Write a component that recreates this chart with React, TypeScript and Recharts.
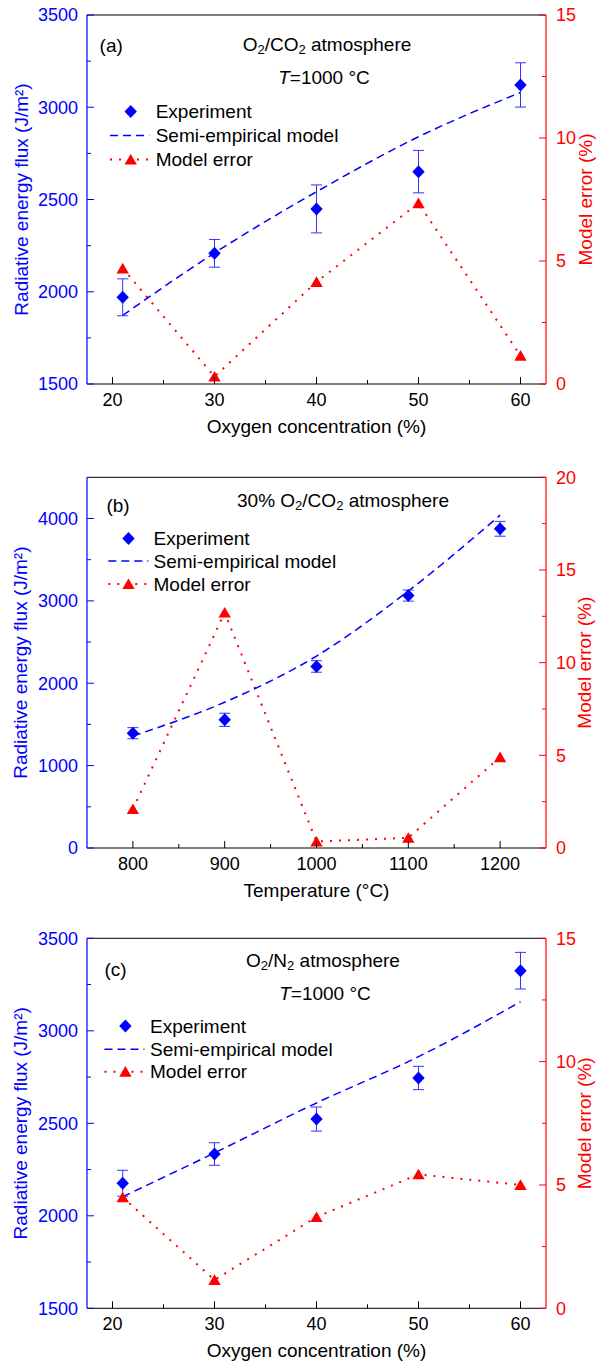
import React from 'react';
import {
  ComposedChart,
  Line,
  Scatter,
  ErrorBar,
  XAxis,
  YAxis,
  ReferenceLine,
  Legend,
  Customized,
} from 'recharts';

const BLUE = '#0000FF';
const RED = '#FF0000';
const FONT = "'Liberation Sans', Arial, Helvetica, sans-serif";

// ---------- Panel (a): O2/CO2, T = 1000 C ----------
const oxygenA = [21, 30, 40, 50, 60];
const expA = [1970, 2208, 2449, 2651, 3121];
const expErrA = [100, 75, 130, 115, 120];
const modelA = [1872, 2210, 2542, 2840, 3080];
const errPctA = [4.7, 0.3, 4.15, 7.35, 1.15];

// ---------- Panel (b): 30% O2/CO2, temperature ----------
const tempB = [800, 900, 1000, 1100, 1200];
const expB = [1394, 1556, 2204, 3064, 3875];
const expErrB = [67, 80, 70, 67, 90];
const modelB = [1360, 1770, 2330, 3120, 4040];
const errPctB = [2.1, 12.7, 0.35, 0.55, 4.9];

// ---------- Panel (c): O2/N2, T = 1000 C ----------
const oxygenC = [21, 30, 40, 50, 60];
const expC = [2176, 2334, 2523, 2745, 3325];
const expErrC = [70, 61, 65, 63, 99];
const modelC = [2103, 2340, 2610, 2860, 3157];
const errPctC = [4.5, 1.15, 3.7, 5.43, 5.0];

// ---------- Ticks ----------
const xMajorOxygen = [20, 30, 40, 50, 60];
const xMinorOxygen = [25, 35, 45, 55];
const xMajorTemp = [800, 900, 1000, 1100, 1200];
const xMinorTemp = [850, 950, 1050, 1150];
const yMajorFluxAC = [1500, 2000, 2500, 3000, 3500];
const yMinorFluxAC = [1750, 2250, 2750, 3250];
const yMajorFluxB = [0, 1000, 2000, 3000, 4000];
const yMinorFluxB = [500, 1500, 2500, 3500];
const yMajorErrAC = [0, 5, 10, 15];
const yMinorErrAC = [2.5, 7.5, 12.5];
const yMajorErrB = [0, 5, 10, 15, 20];
const yMinorErrB = [2.5, 7.5, 12.5, 17.5];

const legendNames = ['Experiment', 'Semi-empirical model', 'Model error'];

const buildRows = (xs: number[], exp: number[], err: number[], model: number[], pct: number[]) =>
  xs.map((x, i) => ({ x, exp: exp[i], err: err[i], model: model[i], pct: pct[i] }));

const TM = { bottom: 9, left: 9, right: 10 } as const;

function makeTick(side: 'bottom' | 'left' | 'right', majors: number[], color: string) {
  return (props: any) => {
    const { x, y, payload } = props;
    const v = payload.value;
    const isMajor = majors.indexOf(v) >= 0;
    const len = isMajor ? 7 : 4;
    if (side === 'bottom') {
      const ay = y - TM.bottom;
      return (
        <g>
          <line x1={x} x2={x} y1={ay} y2={ay - len} stroke="#000" strokeWidth={1} />
          {isMajor && (
            <text x={x} y={y} dy="0.71em" textAnchor="middle" fill={color} fontSize={18} fontFamily={FONT}>
              {v}
            </text>
          )}
        </g>
      );
    }
    if (side === 'left') {
      const ax = x + TM.left;
      return (
        <g>
          <line x1={ax} x2={ax + len} y1={y} y2={y} stroke={color} strokeWidth={1} />
          {isMajor && (
            <text x={x} y={y} dy="0.35em" textAnchor="end" fill={color} fontSize={18} fontFamily={FONT}>
              {v}
            </text>
          )}
        </g>
      );
    }
    const ax = x - TM.right;
    return (
      <g>
        <line x1={ax} x2={ax - len} y1={y} y2={y} stroke={color} strokeWidth={1} />
        {isMajor && (
          <text x={x} y={y} dy="0.35em" textAnchor="start" fill={color} fontSize={18} fontFamily={FONT}>
            {v}
          </text>
        )}
      </g>
    );
  };
}

const diamondPath = (cx: number, cy: number, w: number, h: number) =>
  `M${cx},${cy - h}L${cx + w},${cy}L${cx},${cy + h}L${cx - w},${cy}Z`;
const trianglePath = (cx: number, cy: number) =>
  `M${cx},${cy - 5.6}L${cx + 6.2},${cy + 5}L${cx - 6.2},${cy + 5}Z`;

const DiamondShape = (props: any) => {
  const { cx, cy } = props;
  if (cx == null || cy == null) return <g />;
  return <path d={diamondPath(cx, cy, 6.2, 6.5)} fill={BLUE} />;
};

const TriangleDot = (props: any) => {
  const { cx, cy, index } = props;
  if (cx == null || cy == null) return <g key={`t${index}`} />;
  return <path key={`t${index}`} d={trianglePath(cx, cy)} fill={RED} />;
};

type LegendPos = { markerX: number; lineX1: number; lineX2: number; textX: number; rows: number[] };

const renderLegend = (pos: LegendPos) => () => (
  <svg width={596} height={200} style={{ overflow: 'visible' }}>
    <path d={diamondPath(pos.markerX, pos.rows[0], 6.2, 6.5)} fill={BLUE} />
    <text x={pos.textX} y={pos.rows[0]} dominantBaseline="central" fontSize={19} fontFamily={FONT} fill="#000">
      {legendNames[0]}
    </text>
    <line x1={pos.lineX1} x2={pos.lineX2} y1={pos.rows[1]} y2={pos.rows[1]} stroke={BLUE} strokeWidth={1.5} strokeDasharray="8 5" />
    <text x={pos.textX} y={pos.rows[1]} dominantBaseline="central" fontSize={19} fontFamily={FONT} fill="#000">
      {legendNames[1]}
    </text>
    <line x1={pos.lineX1} x2={pos.lineX2} y1={pos.rows[2]} y2={pos.rows[2]} stroke={RED} strokeWidth={2} strokeDasharray="2 7" />
    <path d={trianglePath(pos.markerX, pos.rows[2])} fill={RED} />
    <text x={pos.textX} y={pos.rows[2]} dominantBaseline="central" fontSize={19} fontFamily={FONT} fill="#000">
      {legendNames[2]}
    </text>
  </svg>
);

// parts: [text, isSubscript]
const chem = (parts: [string, boolean][]) => {
  let shifted = false;
  return parts.map(([t, sub], i) => {
    let dy = 0;
    if (sub && !shifted) { dy = 5; shifted = true; }
    else if (!sub && shifted) { dy = -5; shifted = false; }
    return (
      <tspan key={i} dy={dy} fontSize={sub ? 13 : 19}>
        {t}
      </tspan>
    );
  });
};

type PanelProps = {
  top: number;
  height: number;
  marginTop: number;
  marginBottom: number;
  xAxisHeight: number;
  rows: any[];
  xDomain: [number, number];
  xMajor: number[];
  xMinor: number[];
  lDomain: [number, number];
  lMajor: number[];
  lMinor: number[];
  rDomain: [number, number];
  rMajor: number[];
  rMinor: number[];
  xLabel: string;
  legend: LegendPos;
  annotations: React.ReactNode;
};

const sortTicks = (a: number[], b: number[]) => [...a, ...b].sort((p, q) => p - q);

function Panel(p: PanelProps) {
  return (
    <div style={{ position: 'absolute', left: 0, top: p.top, width: 596, height: p.height }}>
      <ComposedChart
        width={596}
        height={p.height}
        data={p.rows}
        margin={{ top: p.marginTop, right: 0, bottom: p.marginBottom, left: 0 }}
      >
        <XAxis
          dataKey="x"
          type="number"
          domain={p.xDomain}
          allowDataOverflow
          ticks={sortTicks(p.xMajor, p.xMinor)}
          interval={0}
          tickSize={0}
          tickMargin={TM.bottom}
          tickLine={false}
          tick={makeTick('bottom', p.xMajor, '#000')}
          axisLine={{ stroke: '#000', strokeWidth: 1 }}
          height={p.xAxisHeight}
          label={{
            content: (lp: any) => {
              const vb = lp.viewBox || {};
              return (
                <text
                  x={vb.x + vb.width / 2}
                  y={vb.y + 42.5}
                  textAnchor="middle"
                  dominantBaseline="central"
                  fontSize={19}
                  fontFamily={FONT}
                  fill="#000"
                >
                  {p.xLabel}
                </text>
              );
            },
          }}
        />
        <YAxis
          yAxisId="left"
          orientation="left"
          width={87}
          type="number"
          domain={p.lDomain}
          allowDataOverflow
          ticks={sortTicks(p.lMajor, p.lMinor)}
          interval={0}
          tickSize={0}
          tickMargin={TM.left}
          tickLine={false}
          tick={makeTick('left', p.lMajor, BLUE)}
          axisLine={{ stroke: BLUE, strokeWidth: 1.2 }}
          label={{
            content: (lp: any) => {
              const vb = lp.viewBox || {};
              const cx = vb.x + 21;
              const cy = vb.y + vb.height / 2;
              return (
                <text
                  x={cx}
                  y={cy}
                  transform={`rotate(-90 ${cx} ${cy})`}
                  textAnchor="middle"
                  dominantBaseline="central"
                  fontSize={19}
                  fontFamily={FONT}
                  fill={BLUE}
                >
                  Radiative energy flux (J/m²)
                </text>
              );
            },
          }}
        />
        <YAxis
          yAxisId="right"
          orientation="right"
          width={50}
          type="number"
          domain={p.rDomain}
          allowDataOverflow
          ticks={sortTicks(p.rMajor, p.rMinor)}
          interval={0}
          tickSize={0}
          tickMargin={TM.right}
          tickLine={false}
          tick={makeTick('right', p.rMajor, RED)}
          axisLine={{ stroke: RED, strokeWidth: 1.2 }}
          label={{
            content: (lp: any) => {
              const vb = lp.viewBox || {};
              const cx = vb.x + 39;
              const cy = vb.y + vb.height / 2;
              return (
                <text
                  x={cx}
                  y={cy}
                  transform={`rotate(-90 ${cx} ${cy})`}
                  textAnchor="middle"
                  dominantBaseline="central"
                  fontSize={19}
                  fontFamily={FONT}
                  fill={RED}
                >
                  Model error (%)
                </text>
              );
            },
          }}
        />
        <ReferenceLine yAxisId="left" y={p.lDomain[1]} stroke="#000" strokeWidth={1} />
        <Line
          yAxisId="right"
          dataKey="pct"
          type="linear"
          stroke={RED}
          strokeWidth={2}
          strokeDasharray="2 7"
          dot={TriangleDot}
          activeDot={false}
          isAnimationActive={false}
        />
        <Line
          yAxisId="left"
          dataKey="model"
          type="monotone"
          stroke={BLUE}
          strokeWidth={1.5}
          strokeDasharray="8 5"
          dot={false}
          activeDot={false}
          isAnimationActive={false}
        />
        <Scatter yAxisId="left" dataKey="exp" fill={BLUE} shape={DiamondShape} isAnimationActive={false}>
          <ErrorBar dataKey="err" direction="y" width={5.5} stroke="#3333FF" strokeWidth={1} />
        </Scatter>
        <Legend
          layout="horizontal"
          verticalAlign="middle"
          align="center"
          wrapperStyle={{ left: 0, top: 0, width: 596, height: 200 }}
          content={renderLegend(p.legend)}
        />
        <Customized component={() => <g>{p.annotations}</g>} />
      </ComposedChart>
    </div>
  );
}

const txt = { fontSize: 19, fontFamily: FONT, fill: '#000' } as const;

const annotationsA = (
  <g>
    <text x={99.6} y={45} dominantBaseline="central" {...txt}>(a)</text>
    <text x={327} y={43.7} textAnchor="middle" dominantBaseline="central" {...txt}>
      {chem([['O', false], ['2', true], ['/CO', false], ['2', true], [' atmosphere', false]])}
    </text>
    <text x={324} y={76.7} textAnchor="middle" dominantBaseline="central" {...txt}>
      <tspan fontStyle="italic">T</tspan>
      <tspan>=1000 °C</tspan>
    </text>
  </g>
);

const annotationsB = (
  <g>
    <text x={106.4} y={43.5} dominantBaseline="central" {...txt}>(b)</text>
    <text x={343} y={38} textAnchor="middle" dominantBaseline="central" {...txt}>
      {chem([['30% O', false], ['2', true], ['/CO', false], ['2', true], [' atmosphere', false]])}
    </text>
  </g>
);

const annotationsC = (
  <g>
    <text x={104.5} y={46} dominantBaseline="central" {...txt}>(c)</text>
    <text x={323} y={37} textAnchor="middle" dominantBaseline="central" {...txt}>
      {chem([['O', false], ['2', true], ['/N', false], ['2', true], [' atmosphere', false]])}
    </text>
    <text x={325} y={70} textAnchor="middle" dominantBaseline="central" {...txt}>
      <tspan fontStyle="italic">T</tspan>
      <tspan>=1000 °C</tspan>
    </text>
  </g>
);

export default function App() {
  return (
    <div style={{ position: 'absolute', left: 0, top: 0, width: 596, height: 1361, background: '#fff' }}>
      <Panel
        top={0}
        height={462}
        marginTop={15}
        marginBottom={18}
        xAxisHeight={60}
        rows={buildRows(oxygenA, expA, expErrA, modelA, errPctA)}
        xDomain={[17.5, 62.5]}
        xMajor={xMajorOxygen}
        xMinor={xMinorOxygen}
        lDomain={[1500, 3500]}
        lMajor={yMajorFluxAC}
        lMinor={yMinorFluxAC}
        rDomain={[0, 15]}
        rMajor={yMajorErrAC}
        rMinor={yMinorErrAC}
        xLabel="Oxygen concentration (%)"
        legend={{ markerX: 130.7, lineX1: 110, lineX2: 149.3, textX: 155.7, rows: [111.5, 135.5, 159.5] }}
        annotations={annotationsA}
      />
      <Panel
        top={462}
        height={462}
        marginTop={15.3}
        marginBottom={16}
        xAxisHeight={60}
        rows={buildRows(tempB, expB, expErrB, modelB, errPctB)}
        xDomain={[750, 1250]}
        xMajor={xMajorTemp}
        xMinor={xMinorTemp}
        lDomain={[0, 4500]}
        lMajor={yMajorFluxB}
        lMinor={yMinorFluxB}
        rDomain={[0, 20]}
        rMajor={yMajorErrB}
        rMinor={yMinorErrB}
        xLabel="Temperature (°C)"
        legend={{ markerX: 128.5, lineX1: 108.3, lineX2: 148.3, textX: 153.5, rows: [76.5, 99, 122] }}
        annotations={annotationsB}
      />
      <Panel
        top={923}
        height={438}
        marginTop={15.3}
        marginBottom={0.7}
        xAxisHeight={52}
        rows={buildRows(oxygenC, expC, expErrC, modelC, errPctC)}
        xDomain={[17.5, 62.5]}
        xMajor={xMajorOxygen}
        xMinor={xMinorOxygen}
        lDomain={[1500, 3500]}
        lMajor={yMajorFluxAC}
        lMinor={yMinorFluxAC}
        rDomain={[0, 15]}
        rMajor={yMajorErrAC}
        rMinor={yMinorErrAC}
        xLabel="Oxygen concentration (%)"
        legend={{ markerX: 125.4, lineX1: 104.5, lineX2: 144.4, textX: 150, rows: [103, 126.3, 148.7] }}
        annotations={annotationsC}
      />
    </div>
  );
}
